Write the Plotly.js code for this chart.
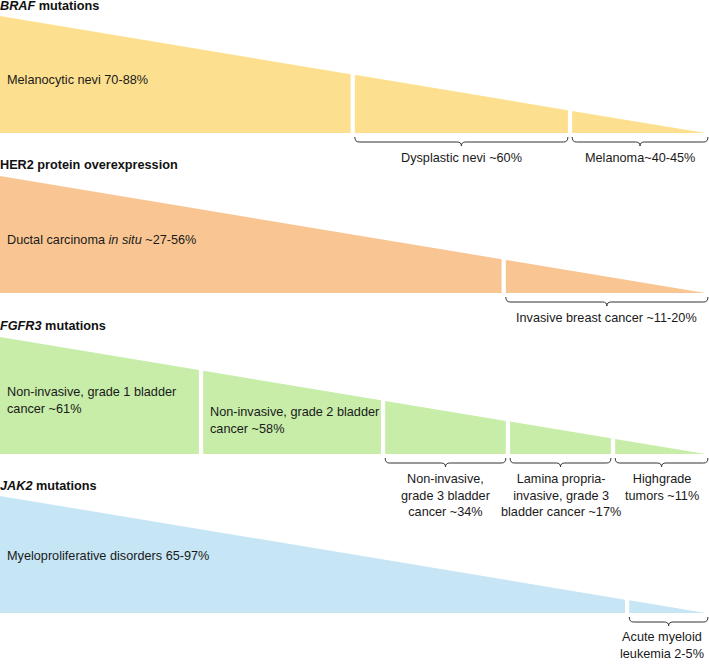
<!DOCTYPE html>
<html>
<head>
<meta charset="utf-8">
<script src="https://cdn.plot.ly/plotly-3.0.1.min.js"></script>
<style>body{margin:0;background:#fff;}</style>
</head>
<body>
<div id="chart" style="width:709px;height:665px"></div>
<script>
// ---- data ----
const bandTitles = ["<b><i>BRAF</i> mutations</b>", "<b>HER2 protein overexpression</b>", "<b><i>FGFR3</i> mutations</b>", "<b><i>JAK2</i> mutations</b>"];

const brafLabels = ["Melanocytic nevi 70-88%", "Dysplastic nevi ~60%", "Melanoma~40-45%"];
const brafCuts = [50.0, 80.8];           // segment boundaries along the wedge (0-100)

const her2Labels = ["Ductal carcinoma <i>in situ</i> ~27-56%", "Invasive breast cancer ~11-20%"];
const her2Cuts = [71.4];

const fgfr3Labels = ["Non-invasive, grade 1 bladder<br>cancer ~61%", "Non-invasive, grade 2 bladder<br>cancer ~58%",
                     "Non-invasive,<br>grade 3 bladder<br>cancer ~34%", "Lamina propria-<br>invasive, grade 3<br>bladder cancer ~17%",
                     "Highgrade<br>tumors ~11%"];
const fgfr3Cuts = [28.5, 54.3, 72.0, 86.9];

const jak2Labels = ["Myeloproliferative disorders 65-97%", "Acute myeloid<br>leukemia 2-5%"];
const jak2Cuts = [88.9];

// ---- layout / style ----
const bands = [
  {labels: brafLabels, cuts: brafCuts, inside: 1, color: "#FDE08F", insideY: [64]},
  {labels: her2Labels, cuts: her2Cuts, inside: 1, color: "#F9C693", insideY: [64]},
  {labels: fgfr3Labels, cuts: fgfr3Cuts, inside: 2, color: "#C7EDA9", insideY: [63, 83]},
  {labels: jak2Labels, cuts: jak2Cuts, inside: 1, color: "#C6E5F5", insideY: [60], bottomAnchored: true}
];
const bandTop = [16, 176, 337, 496];
const titleY = [6, 165, 326, 486];
const bandH = 117;
const gapHalf = 0.3;
const braceR = 0.6;
const FONT = "Liberation Sans, Arial, Helvetica, sans-serif";
const FS = 12.7;

const traces = [];
const annotations = [];
const shapes = [];

bands.forEach((band, b) => {
  const bottom = bandTop[b] + bandH;
  const topY = x => bandTop[b] + bandH * (x / 100);
  const edges = [0, ...band.cuts, 100];
  annotations.push({xref: "paper", yref: "y", x: 0, y: titleY[b], xanchor: "left", yanchor: "middle",
    text: bandTitles[b], showarrow: false, font: {family: FONT, size: 12.7, color: "#111"}, xshift: -2});
  for (let i = 0; i < edges.length - 1; i++) {
    const s = i === 0 ? edges[i] : edges[i] + gapHalf;
    const e = i === edges.length - 2 ? edges[i + 1] : edges[i + 1] - gapHalf;
    traces.push({
      type: "scatter", mode: "lines", fill: "toself", fillcolor: band.color,
      x: [s, s, e, e, s], y: [bottom, topY(s), topY(e), bottom, bottom],
      line: {width: 0, color: band.color}, hoverinfo: "skip", showlegend: false
    });
    if (i < band.inside) {
      annotations.push({x: s, y: bandTop[b] + band.insideY[i], xanchor: "left", yanchor: "middle", xshift: 5,
        align: "left", text: band.labels[i], showarrow: false, font: {family: FONT, size: FS, color: "#1a1a1a"}});
    } else {
      const be = i === edges.length - 2 ? 100.35 : e;
      const a = s, m = (s + be) / 2;
      const y1 = bottom + 4, y2 = bottom + 9, y3 = bottom + 13;
      const r = braceR;
      const path = `M ${a},${y1} Q ${a},${y2} ${a + r},${y2} L ${m - r},${y2} Q ${m},${y2} ${m},${y3} ` +
                   `Q ${m},${y2} ${m + r},${y2} L ${be - r},${y2} Q ${be},${y2} ${be},${y1}`;
      shapes.push({type: "path", xref: "x", yref: "y", path: path, line: {color: "#333", width: 1}});
      const ann = {x: m, y: bottom + 16, xanchor: "center", yanchor: "top", align: "center",
        text: band.labels[i], showarrow: false, font: {family: FONT, size: FS, color: "#1a1a1a"}};
      if (band.bottomAnchored) {
        ann.yref = "paper"; ann.y = 0; ann.yanchor = "bottom"; ann.yshift = 2;
        ann.xref = "paper"; ann.x = 1; ann.xanchor = "right"; ann.xshift = -3;
      }
      annotations.push(ann);
    }
  }
});

const layout = {
  width: 709, height: 665,
  margin: {l: 0, r: 0, t: 0, b: 0},
  paper_bgcolor: "#fff", plot_bgcolor: "#fff",
  xaxis: {range: [0, 100.5], visible: false, fixedrange: true},
  yaxis: {range: [665, 0], visible: false, fixedrange: true},
  annotations: annotations,
  shapes: shapes,
  showlegend: false
};

Plotly.newPlot("chart", traces, layout, {displayModeBar: false, staticPlot: true});
</script>
</body>
</html>
